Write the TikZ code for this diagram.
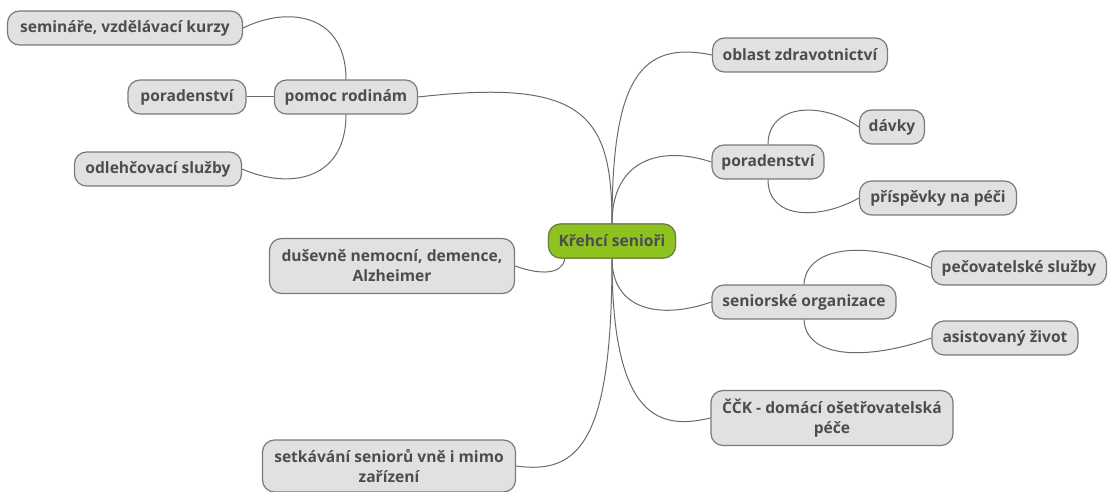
\documentclass[tikz,border=0pt]{standalone}
\usepackage{fontspec}
\setmainfont{Open Sans}
\definecolor{boxfill}{HTML}{E1E1E1}
\definecolor{boxline}{HTML}{7A7A7A}
\definecolor{txt}{HTML}{4D4D4D}
\definecolor{rootfill}{HTML}{8DC21F}
\definecolor{rootline}{HTML}{6E7F4A}
\definecolor{conn}{HTML}{6A6A6A}
\tikzset{
  topic/.style={draw=boxline, fill=boxfill, line width=1.2pt, rounded corners=12pt,
    text=txt, font=\bfseries\fontsize{15.6}{20}\selectfont, inner xsep=3pt, inner ysep=2pt,
    minimum height=34pt, align=center},
  root/.style={topic, fill=rootfill, draw=rootline},
  link/.style={draw=conn, line width=1pt}
}
\begin{document}
\begin{tikzpicture}[x=1pt,y=-1pt]
\useasboundingbox (0,0) rectangle (1109,492);
% nodes
\node[root, minimum width=127pt] (root) at (612,241) {Křehcí senioři};
\node[topic, minimum width=235pt] (sem) at (125,28) {semináře, vzdělávací kurzy};
\node[topic, minimum width=118pt] (porL) at (187,97) {poradenství};
\node[topic, minimum width=143pt] (pom) at (346,97) {pomoc rodinám};
\node[topic, minimum width=167pt] (odl) at (158,169) {odlehčovací služby};
\node[topic, minimum width=245pt, minimum height=55pt] (dus) at (392,266) {duševně nemocní, demence,\\Alzheimer};
\node[topic, minimum width=253pt, minimum height=52pt] (set) at (389,466) {setkávání seniorů vně i mimo\\zařízení};
\node[topic, minimum width=175pt] (obl) at (800,55) {oblast zdravotnictví};
\node[topic, minimum width=112pt] (porR) at (768,162) {poradenství};
\node[topic, minimum width=65pt] (dav) at (892,127) {dávky};
\node[topic, minimum width=157pt] (pri) at (938,198) {příspěvky na péči};
\node[topic, minimum width=184pt] (sen) at (804,302) {seniorské organizace};
\node[topic, minimum width=175pt] (pec) at (1019,268) {pečovatelské služby};
\node[topic, minimum width=146pt] (asi) at (1005,338) {asistovaný život};
\node[topic, minimum width=242pt, minimum height=55pt] (cck) at (832,418) {ČČK - domácí ošetřovatelská\\péče};
% connectors from root
\draw[link] (root.north) .. controls (612,80) and (640,40) .. (obl.west);
\draw[link] (root.north) .. controls (612,160) and (660,145) .. (porR.west);
\draw[link] (root.south) .. controls (612,310) and (660,320) .. (sen.west);
\draw[link] (root.south) .. controls (612,420) and (660,430) .. (cck.west);
\draw[link] (root.north) .. controls (612,115) and (585,78) .. (pom.east);
\draw[link] (root.south) .. controls (612,440) and (580,475) .. (set.east);
\draw[link] (root.south west) ++(17,0) coordinate (rsw) .. controls (562,275) and (540,275) .. (dus.east);
% pomoc rodinam
\draw[link] (pom.north) .. controls (346,15) and (290,5) .. (sem.east);
\draw[link] (pom.west) -- (porL.east);
\draw[link] (pom.south) .. controls (346,180) and (290,190) .. (odl.east);
% poradenstvi right
\draw[link] (porR.north) .. controls (768,105) and (820,100) .. (dav.west);
\draw[link] (porR.south) .. controls (768,220) and (820,220) .. (pri.west);
% seniorske
\draw[link] (sen.north) .. controls (806,245) and (870,240) .. (pec.west);
\draw[link] (sen.south) .. controls (806,360) and (870,360) .. (asi.west);
% redraw root on top of its connectors
\node[root, minimum width=127pt] at (612,241) {Křehcí senioři};
\end{tikzpicture}
\end{document}
